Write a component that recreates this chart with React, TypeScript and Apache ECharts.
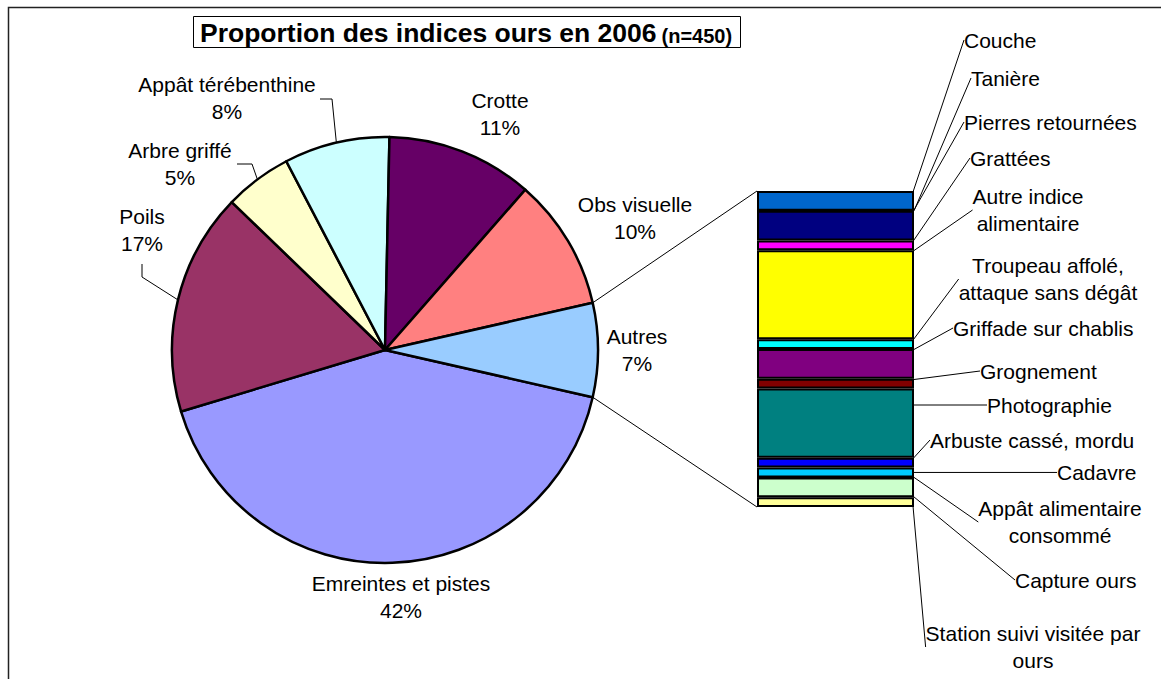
import React, { useEffect, useRef } from 'react';
import * as echarts from 'echarts';

// ---------- data ----------
const pieNames = ['Emreintes et pistes', 'Poils', 'Arbre griffé', 'Appât térébenthine', 'Crotte', 'Obs visuelle', 'Autres'];
const pieValues = [188, 76, 23, 36, 50, 45, 32];
const pieColors = ['#9999FF', '#993366', '#FFFFCC', '#CCFFFF', '#660066', '#FF8080', '#99CCFF'];

const subNames = [
  'Couche',
  'Tanière',
  'Pierres retournées',
  'Grattées',
  'Autre indice\nalimentaire',
  'Troupeau affolé,\nattaque sans dégât',
  'Griffade sur chablis',
  'Grognement',
  'Photographie',
  'Arbuste cassé, mordu',
  'Cadavre',
  'Appât alimentaire\nconsommé',
  'Capture ours',
  'Station suivi visitée par\nours',
];
const subValues = [2, 0, 3, 1, 9, 1, 3, 1, 7, 1, 1, 0, 2, 1];
const subColors = ['#0066CC', '#CCCCFF', '#000080', '#FF00FF', '#FFFF00', '#00FFFF', '#800080', '#800000', '#008080', '#0000FF', '#00CCFF', '#CCFFFF', '#CCFFCC', '#FFFF99'];

const titleMain = 'Proportion des indices ours en 2006';
const titleSub = '(n=450)';

// ---------- layout ----------
const FONT = "'Liberation Sans', Arial, sans-serif";
const CX = 385;
const CY = 350;
const R = 213;
const GRID = { left: 757, top: 191, width: 157, height: 316 };

// pie label centres
const pieLabelPos: Record<string, [number, number]> = {
  'Emreintes et pistes': [401, 597],
  'Poils': [142, 230],
  'Arbre griffé': [180, 164],
  'Appât térébenthine': [227, 98],
  'Crotte': [500, 114],
  'Obs visuelle': [635, 218],
  'Autres': [637, 350],
};
// pie leader line bend + end points
const pieLeaders: Record<string, [number, number][]> = {
  'Appât térébenthine': [[332, 99], [320, 99]],
  'Arbre griffé': [[252, 164], [237, 164]],
  'Poils': [[142, 277], [142, 264]],
};

// bar label layout: tick start x (null = bar edge), tick end x, tick y (null = segment middle), text x, text y, align
const barLabelLayout: [number | null, number, number | null, number, number | null, string][] = [
  [955, 962, 39, 964, 40, 'left'],
  [962, 968, 79, 971, 78, 'left'],
  [954, 961, 122, 964, 122, 'left'],
  [962, 968, 157, 970, 158, 'left'],
  [963, 970, 211, 1028, 210, 'center'],
  [945, 953, 278, 1048, 279, 'center'],
  [943, 950, 328, 953, 328, 'left'],
  [972, 977, 370, 980, 371, 'left'],
  [982, 985, 404, 987, 405, 'left'],
  [923, 928, 440, 930, 440, 'left'],
  [1050, 1055, null, 1057, null, 'left'],
  [968, 975, 521, 1060, 522, 'center'],
  [1007, 1012, 580, 1015, 580, 'left'],
  [null, 920, 647, 1033, 647, 'center'],
];

export default function App() {
  const ref = useRef<HTMLDivElement>(null);

  useEffect(() => {
    if (!ref.current) return;
    const chart = echarts.init(ref.current, null, { renderer: 'svg' });

    const total = pieValues.reduce((a, b) => a + b, 0);
    const autresIdx = pieNames.indexOf('Autres');
    const half = (pieValues[autresIdx] / total) * 180; // degrees
    const startAngle = -half;

    const midAngles: number[] = [];
    let cum = 0;
    pieValues.forEach((v) => {
      midAngles.push(startAngle - ((cum + v / 2) / total) * 360);
      cum += v;
    });
    const edgePoint = (deg: number): [number, number] => {
      const r = (deg * Math.PI) / 180;
      return [CX + R * Math.cos(r), CY - R * Math.sin(r)];
    };

    const subTotal = subValues.reduce((a, b) => a + b, 0);
    const hr = (half * Math.PI) / 180;
    const topPt = [CX + R * Math.cos(hr), CY - R * Math.sin(hr)];
    const botPt = [CX + R * Math.cos(hr), CY + R * Math.sin(hr)];

    const barSeries = subNames.map((n, i) => ({
      type: 'bar',
      name: n,
      stack: 'autres',
      data: [subValues[i]],
      barWidth: '100%',
      silent: true,
      itemStyle: { color: subColors[i], borderColor: '#000', borderWidth: 2 },
      label: {
        show: true,
        position: 'right',
        formatter: '{a}',
        fontSize: 21,
        lineHeight: 27,
        color: '#000',
        fontFamily: FONT,
      },
      labelLine: { show: true, lineStyle: { color: '#000', width: 1 } },
      labelLayout: (p: any) => {
        const L = barLabelLayout[i];
        const right = p.rect.x + p.rect.width;
        const midY = p.rect.y + p.rect.height / 2;
        const ty = L[2] == null ? midY : L[2];
        const x0 = L[0] == null ? right : L[0];
        return {
          x: L[3],
          y: L[4] == null ? midY : L[4],
          align: L[5],
          verticalAlign: 'middle',
          labelLinePoints: [[right, midY], [x0, ty], [L[1], ty]],
        };
      },
    }));

    chart.setOption({
      animation: false,
      backgroundColor: '#fff',
      title: {
        text: `{a|${titleMain}} {b|${titleSub}}`,
        left: 193,
        top: 16,
        padding: [3, 9, 2, 7],
        borderColor: '#000',
        borderWidth: 1,
        backgroundColor: '#fff',
        textStyle: {
          rich: {
            a: { fontSize: 26.5, fontWeight: 'bold', fontFamily: FONT, color: '#000', verticalAlign: 'bottom' },
            b: { fontSize: 20, fontWeight: 'bold', fontFamily: FONT, color: '#000', verticalAlign: 'bottom' },
          },
        },
      },
      grid: { ...GRID },
      xAxis: { type: 'category', data: [''], show: false },
      yAxis: { type: 'value', min: 0, max: subTotal, inverse: true, show: false },
      graphic: [
        {
          type: 'rect',
          shape: { x: 8.5, y: 7.5, width: 1300, height: 800 },
          style: { fill: 'none', stroke: '#222', lineWidth: 1.5 },
          silent: true,
        },
        {
          type: 'line',
          shape: { x1: topPt[0], y1: topPt[1], x2: GRID.left, y2: GRID.top },
          style: { stroke: '#000', lineWidth: 1 },
          silent: true,
        },
        {
          type: 'line',
          shape: { x1: botPt[0], y1: botPt[1], x2: GRID.left, y2: GRID.top + GRID.height },
          style: { stroke: '#000', lineWidth: 1 },
          silent: true,
        },
      ],
      series: [
        {
          type: 'pie',
          center: [CX, CY],
          radius: R,
          startAngle,
          clockwise: true,
          avoidLabelOverlap: false,
          silent: true,
          itemStyle: { borderColor: '#000', borderWidth: 2.5 },
          label: {
            show: true,
            position: 'outside',
            formatter: (p: any) => `${p.name}\n${Math.round(p.percent)}%`,
            fontSize: 21,
            lineHeight: 27,
            color: '#000',
            fontFamily: FONT,
            align: 'center',
          },
          labelLine: { show: true, lineStyle: { color: '#000', width: 1 } },
          labelLayout: (p: any) => {
            const name = pieNames[p.dataIndex];
            const pos = pieLabelPos[name];
            const res: any = { x: pos[0], y: pos[1], align: 'center', verticalAlign: 'middle' };
            const lead = pieLeaders[name];
            if (lead) res.labelLinePoints = [edgePoint(midAngles[p.dataIndex]), ...lead];
            return res;
          },
          data: pieNames.map((n, i) => ({
            name: n,
            value: pieValues[i],
            itemStyle: { color: pieColors[i] },
            labelLine: { show: !!pieLeaders[n] },
          })),
        },
        ...barSeries,
      ],
    });

    return () => chart.dispose();
  }, []);

  return <div ref={ref} style={{ position: 'absolute', left: 0, top: 0, width: 1161, height: 679 }} />;
}
